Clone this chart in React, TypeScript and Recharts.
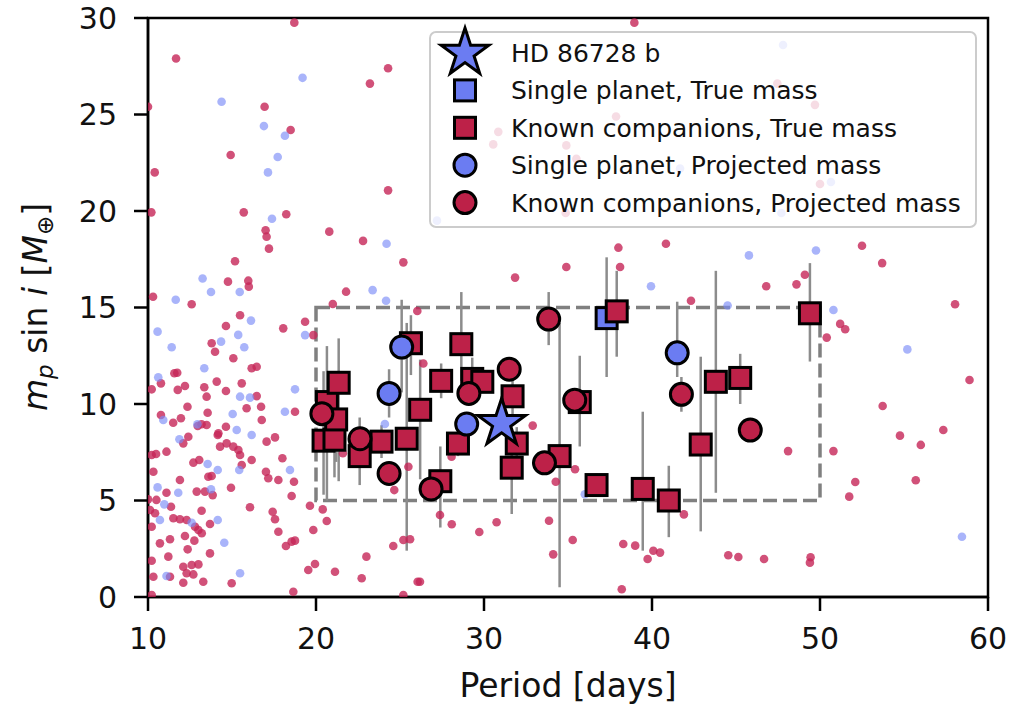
import React from "react";
import {
  ErrorBar,
  ReferenceArea,
  Scatter,
  ScatterChart,
  XAxis,
  YAxis,
} from "recharts";

// background population: [period (d), m sin i (M_earth)]
const bgRed: [number, number][] = [
  [18.71, 29.76], [11.67, 27.9], [24.29, 27.4], [23.21, 26.6], [10.0, 25.4], [16.94, 25.4],
  [18.49, 24.2], [14.92, 22.9], [10.4, 22.0], [24.29, 21.07], [10.2, 19.93], [15.7, 19.93],
  [18.23, 19.83], [20.79, 18.93], [17.0, 19.0], [17.06, 18.67], [17.2, 18.05], [22.8, 18.45],
  [15.18, 17.4], [25.2, 17.34], [14.76, 16.34], [15.97, 16.39], [16.0, 16.08], [21.79, 15.82],
  [10.3, 15.56], [12.6, 15.17], [21.0, 15.18],
  [15.48, 14.6], [14.64, 14.04], [18.05, 13.92], [13.79, 13.15], [13.99, 12.71], [19.84, 13.57],
  [15.08, 12.37], [16.17, 11.85], [16.47, 11.93], [11.57, 11.59], [11.74, 11.62], [10.22, 10.76],
  [10.77, 11.07], [12.2, 10.93], [11.77, 10.73], [13.35, 10.87], [13.49, 10.38], [14.09, 11.16],
  [14.64, 10.67], [15.58, 11.07], [16.47, 10.41], [12.35, 9.86], [10.77, 9.43], [11.5, 9.03],
  [11.96, 9.26], [13.55, 9.55], [15.87, 9.78], [16.73, 9.86], [16.77, 9.17], [18.75, 9.6],
  [12.96, 8.86], [13.19, 8.95], [13.49, 8.91], [14.64, 8.82], [17.06, 8.05], [17.56, 8.27],
  [12.1, 7.96], [12.4, 8.3], [14.15, 8.39], [14.29, 7.79], [14.68, 7.96], [15.08, 7.79],
  [15.38, 7.62], [10.22, 7.36], [10.48, 7.41], [11.1, 7.53], [12.7, 6.96], [13.05, 7.1],
  [15.48, 7.36], [16.17, 7.1], [18.0, 7.19], [13.59, 6.23], [13.79, 6.27], [10.32, 6.49],
  [11.9, 6.06], [17.02, 6.49], [17.16, 6.15], [17.76, 6.06], [18.69, 5.97], [12.9, 5.46],
  [13.39, 5.46], [11.1, 5.4], [10.0, 5.06], [10.5, 5.03], [14.94, 5.66], [13.85, 5.28],
  [11.37, 4.68], [10.12, 4.51], [10.42, 4.34], [13.19, 4.47], [11.9, 4.03], [11.51, 4.08],
  [12.3, 3.99], [12.8, 3.64], [13.0, 3.47], [13.2, 3.3], [13.69, 3.78], [16.07, 4.65],
  [17.42, 4.42], [17.56, 4.03], [17.76, 3.38], [18.21, 2.64], [18.55, 2.87], [18.75, 2.92],
  [10.22, 3.64], [10.71, 2.78], [11.31, 2.99], [12.2, 3.16], [12.76, 2.92], [12.36, 2.47],
  [13.69, 2.26], [11.21, 2.09], [10.22, 1.88], [12.1, 1.57], [12.6, 1.66], [13.0, 1.69],
  [11.31, 1.05], [10.32, 1.05], [12.1, 0.74], [13.29, 0.79], [12.3, 1.23], [12.7, 1.17],
  [14.98, 0.71], [10.22, 0.1], [18.65, 0.27], [14.19, 8.48], [15.58, 6.84], [18.55, 5.23],
  [19.35, 14.26], [26.03, 14.82], [26.39, 12.1], [21.6, 7.45], [25.5, 6.75], [24.66, 5.54],
  [19.64, 4.73], [20.4, 4.54], [20.64, 3.94], [19.84, 3.47], [24.6, 2.64], [25.2, 2.95],
  [25.6, 2.99], [23.0, 2.09], [21.13, 1.31], [19.54, 1.4], [19.94, 1.71], [22.72, 0.97],
  [28.07, 7.27], [26.05, 0.79], [25.2, 0.1],
  [32.9, 8.88], [27.38, 4.25], [28.08, 3.77], [29.72, 3.37], [30.75, 3.87], [33.87, 3.95],
  [34.27, 5.97], [35.42, 6.62], [35.28, 2.95], [34.12, 2.21], [38.29, 2.75], [39.0, 2.66],
  [40.08, 2.4], [40.48, 2.3], [39.74, 1.97], [38.2, 0.4], [41.9, 4.28], [26.19, 0.79],
  [38.95, 29.76], [37.86, 24.9], [30.85, 24.1], [30.55, 23.45], [34.9, 23.4], [35.5, 22.7],
  [34.86, 19.9], [47.46, 26.6], [49.7, 25.5], [50.0, 21.4],
  [38.0, 18.1], [40.83, 18.3], [34.9, 17.1], [38.1, 17.1], [31.85, 16.55],
  [52.5, 18.2], [53.7, 17.3], [46.8, 16.1], [48.6, 16.2], [49.1, 16.7], [58.04, 15.17],
  [42.32, 15.35], [51.2, 14.15], [51.5, 13.87], [50.4, 13.44], [48.1, 7.56], [50.8, 7.56],
  [52.1, 5.96], [51.74, 5.2], [53.73, 9.9], [54.76, 8.36], [56.0, 7.88], [57.34, 8.65],
  [55.7, 6.05], [58.9, 11.24], [44.54, 2.16], [45.14, 2.07], [46.67, 1.97], [49.44, 2.06],
  [49.4, 1.78],
];

const bgBlue: [number, number][] = [
  [19.2, 26.9], [14.38, 25.66], [16.9, 24.4], [18.15, 23.9], [17.72, 22.8], [17.14, 22.0],
  [17.38, 19.6], [24.2, 18.3], [13.25, 16.5], [13.75, 15.8], [11.65, 15.4], [15.46, 15.8],
  [23.37, 15.9], [24.17, 15.35], [47.8, 28.6], [50.65, 21.5], [47.7, 19.9], [41.67, 22.2],
  [27.2, 19.5], [45.77, 17.7], [49.76, 17.95], [39.94, 16.1], [44.5, 15.1], [50.8, 14.87],
  [55.2, 12.83], [58.45, 3.12], [36.0, 5.32], [24.1, 8.96], [16.13, 14.32], [10.57, 13.75],
  [15.37, 13.58], [14.35, 13.23], [15.73, 12.94], [11.41, 12.94], [13.35, 11.85], [10.61, 11.38],
  [15.48, 10.38], [16.07, 10.33], [18.75, 10.76], [10.91, 9.17], [15.04, 9.48], [18.15, 9.6],
  [15.28, 8.65], [16.17, 8.39], [11.87, 8.17], [13.55, 6.89], [14.15, 6.58], [15.43, 6.58],
  [18.45, 6.58], [10.57, 5.68], [11.8, 5.4], [13.75, 5.58], [10.97, 4.8], [10.71, 3.99],
  [12.6, 3.85], [14.15, 3.99], [14.54, 2.81], [11.1, 1.09], [15.48, 1.23], [19.35, 13.57],
  [12.94, 8.95],
];

// selected planets: [period, mass, lower, upper]
const knownTrue: [number, number, number, number][] = [
  [20.45, 8.1, 5.3, 11.7], [20.65, 10.1, 5.0, 13.0], [21.1, 8.15, 6.2, 10.5],
  [21.2, 9.2, 7.0, 11.0], [21.35, 11.1, 6.0, 13.4], [22.6, 7.3, 5.8, 9.3],
  [23.9, 8.05, 7.2, 8.9], [25.4, 8.2, 2.4, 14.2], [25.65, 13.15, 11.5, 14.6],
  [26.2, 9.7, 6.1, 12.3], [27.45, 11.2, 10.3, 12.1], [27.4, 6.0, 3.6, 7.8],
  [28.45, 7.95, 7.3, 8.6], [28.65, 13.1, 11.2, 15.8], [29.3, 11.3, 10.2, 12.4],
  [29.9, 11.15, 10.6, 11.7], [31.7, 10.4, 9.2, 11.6], [31.95, 7.95, 7.2, 8.8],
  [31.65, 6.7, 4.3, 8.0], [34.5, 7.3, 0.5, 14.2], [35.7, 10.1, 7.8, 12.5],
  [36.7, 5.8, 5.2, 6.4], [37.9, 14.8, 12.45, 16.9], [39.45, 5.6, 2.4, 9.6],
  [41.0, 5.0, 3.1, 6.8], [42.9, 7.9, 3.4, 12.45], [43.8, 11.15, 5.4, 16.9],
  [45.25, 11.35, 10.0, 12.6], [49.4, 14.7, 12.2, 17.3],
];
const singleTrue: [number, number, number, number][] = [[37.3, 14.45, 11.4, 17.6]];
const singleProj: [number, number, number, number][] = [
  [25.1, 12.95, 10.6, 15.4], [24.35, 10.55, 9.3, 11.8], [28.97, 8.96, 8.5, 9.4],
  [41.5, 12.65, 11.4, 15.3],
];
const knownProj: [number, number, number, number][] = [
  [20.35, 9.5, 9.5, 9.5], [22.62, 8.2, 8.2, 8.2], [24.35, 6.4, 6.4, 6.4], [26.85, 5.6, 5.6, 5.6],
  [29.1, 10.55, 10.55, 10.55], [31.5, 11.8, 11.8, 11.8], [33.85, 14.4, 13.05, 15.8],
  [33.6, 6.95, 6.95, 6.95], [35.4, 10.2, 10.2, 10.2], [41.75, 10.5, 9.6, 11.4],
  [45.85, 8.65, 8.2, 9.1],
];
const target: [number, number][] = [[31.05, 9.0]];

const xTicks = [10, 20, 30, 40, 50, 60];
const yTicks = [0, 5, 10, 15, 20, 25, 30];

const RED = "#bd2148";
const BLUE = "#6b7cf2";
const FONT = "DejaVu Sans";

const pts = (a: [number, number][]) => a.map(([p, m]) => ({ p, m }));
const withErr = (a: [number, number, number, number][]) =>
  a.map(([p, m, lo, hi]) => ({ p, m, err: [m - lo, hi - m] }));
const allErr = withErr([...singleTrue, ...knownTrue, ...singleProj, ...knownProj]);

const starPoints = (cx: number, cy: number, R: number) => {
  const r = R * 0.382;
  const out: string[] = [];
  for (let i = 0; i < 10; i++) {
    const a = -Math.PI / 2 + (i * Math.PI) / 5;
    const rr = i % 2 === 0 ? R : r;
    out.push(`${cx + rr * Math.cos(a)},${cy + rr * Math.sin(a)}`);
  }
  return out.join(" ");
};

const dot = (fill: string, op: number) => (p: any) =>
  <circle cx={p.cx} cy={p.cy} r={4.3} fill={fill} fillOpacity={op} />;
const square = (fill: string) => (p: any) =>
  <rect x={p.cx - 10.5} y={p.cy - 10.5} width={21} height={21} fill={fill} stroke="#000" strokeWidth={3} />;
const circ = (fill: string) => (p: any) =>
  <circle cx={p.cx} cy={p.cy} r={11} fill={fill} stroke="#000" strokeWidth={3} />;
const star = (p: any) =>
  <polygon points={starPoints(p.cx, p.cy, 25)} fill={BLUE} stroke="#000" strokeWidth={3} />;
const none = () => <g />;

const legendRows = [
  { label: "HD 86728 b", kind: "star", color: BLUE },
  { label: "Single planet, True mass", kind: "square", color: BLUE },
  { label: "Known companions, True mass", kind: "square", color: RED },
  { label: "Single planet, Projected mass", kind: "circle", color: BLUE },
  { label: "Known companions, Projected mass", kind: "circle", color: RED },
];

export default function App() {
  const tick = { fontFamily: FONT, fontSize: 30, fill: "#111" };
  return (
    <div style={{ position: "absolute", left: 0, top: 0, width: 1010, height: 708, background: "#fff" }}>
      <ScatterChart width={1010} height={708} margin={{ top: 18, right: 22, bottom: 71, left: 88 }}>
        <XAxis
          type="number"
          dataKey="p"
          domain={[10, 60]}
          ticks={xTicks}
          interval={0}
          allowDataOverflow
          height={40}
          tick={tick}
          tickSize={14}
          tickMargin={17}
          axisLine={{ stroke: "#000", strokeWidth: 2.5 }}
          tickLine={{ stroke: "#000", strokeWidth: 2.5 }}
        />
        <YAxis
          type="number"
          dataKey="m"
          domain={[0, 30]}
          ticks={yTicks}
          interval={0}
          allowDataOverflow
          width={60}
          tick={tick}
          tickSize={14}
          tickMargin={17}
          axisLine={{ stroke: "#000", strokeWidth: 2.5 }}
          tickLine={{ stroke: "#000", strokeWidth: 2.5 }}
        />
        <ReferenceArea x1={20} x2={50} y1={5} y2={15} fill="none" stroke="#808080" strokeWidth={3.5} strokeDasharray="14 6" />
        <Scatter data={pts(bgRed)} shape={dot("#c62558", 0.8)} isAnimationActive={false} />
        <Scatter data={pts(bgBlue)} shape={dot("#7b8cf8", 0.65)} isAnimationActive={false} />
        <Scatter data={allErr} shape={none} isAnimationActive={false}>
          <ErrorBar dataKey="err" direction="y" width={0} stroke="#8c8c8c" strokeWidth={2.5} />
        </Scatter>
        <Scatter data={withErr(singleTrue)} shape={square(BLUE)} isAnimationActive={false} />
        <Scatter data={withErr(knownTrue)} shape={square(RED)} isAnimationActive={false} />
        <Scatter data={withErr(singleProj)} shape={circ(BLUE)} isAnimationActive={false} />
        <Scatter data={withErr(knownProj)} shape={circ(RED)} isAnimationActive={false} />
        <Scatter data={pts(target)} shape={star} isAnimationActive={false} />
        <ReferenceArea x1={10} x2={60} y1={0} y2={30} fill="none" stroke="#000" strokeWidth={2.5} ifOverflow="visible" />
      </ScatterChart>
      <svg width={1010} height={708} style={{ position: "absolute", left: 0, top: 0, pointerEvents: "none" }}>
        <text x={568} y={697} textAnchor="middle" fontFamily={FONT} fontSize={33} fill="#111">
          Period [days]
        </text>
        <text transform="translate(47,307) rotate(-90)" textAnchor="middle" fontFamily={FONT} fontSize={33} fill="#111">
          <tspan fontStyle="italic">m</tspan>
          <tspan fontStyle="italic" fontSize={23} dy={6}>p</tspan>
          <tspan dy={-6}> sin </tspan>
          <tspan fontStyle="italic">i</tspan>
          <tspan> [</tspan>
          <tspan fontStyle="italic">M</tspan>
          <tspan fontSize={23} dy={6}>⊕</tspan>
          <tspan dy={-6}>]</tspan>
        </text>
        <rect x={430} y={32} width={546} height={195} rx={6} fill="#fff" fillOpacity={0.8} stroke="#cccccc" strokeWidth={2} />
        {legendRows.map((r, i) => {
          const cy = 53 + i * 37.4;
          const cx = 465;
          let mark;
          if (r.kind === "star") mark = <polygon points={starPoints(cx, cy, 25)} fill={r.color} stroke="#000" strokeWidth={3} />;
          else if (r.kind === "square") mark = <rect x={cx - 10.5} y={cy - 10.5} width={21} height={21} fill={r.color} stroke="#000" strokeWidth={3} />;
          else mark = <circle cx={cx} cy={cy} r={11} fill={r.color} stroke="#000" strokeWidth={3} />;
          return (
            <g key={r.label}>
              {mark}
              <text x={511} y={cy + 9} fontFamily={FONT} fontSize={25} fill="#111">
                {r.label}
              </text>
            </g>
          );
        })}
      </svg>
    </div>
  );
}
